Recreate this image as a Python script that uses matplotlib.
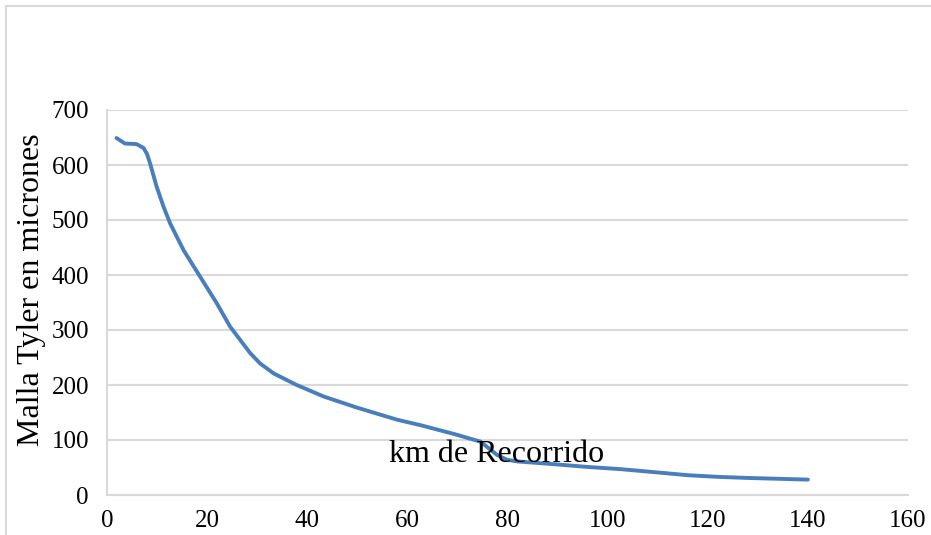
import matplotlib.pyplot as plt
from matplotlib.lines import Line2D

# values
km = [1.9, 3.6, 5.9, 7.3, 8.0, 8.6, 9.9, 11.3, 12.6, 15.3, 18.6, 21.9,
      24.6, 26.6, 28.6, 30.6, 33.3, 37.9, 43.3, 49.9, 57.9, 62.6, 69.3,
      74.6, 77.9, 79.9, 82.0, 89.3, 96.0, 102.6, 110.0, 116.0, 122.0,
      128.0, 134.0, 140.0]
malla = [649, 639, 638, 631, 620, 603, 561, 524, 494, 445, 397, 349,
         306, 282, 258, 239, 221, 200, 179, 159, 137, 127, 111,
         97, 73, 64, 61, 56, 51, 47, 41, 36, 33,
         31, 29.5, 28]

x_ticks = [0, 20, 40, 60, 80, 100, 120, 140, 160]
y_ticks = [0, 100, 200, 300, 400, 500, 600, 700]

plt.rcParams['font.family'] = ['Liberation Serif', 'DejaVu Serif']

fig = plt.figure(figsize=(9.31, 5.35), dpi=100)
ax = fig.add_axes([107 / 931, 40 / 535, 801 / 931, 385 / 535])

ax.plot(km, malla, color='#4a7ebb', linewidth=2.8,
        solid_capstyle='round', solid_joinstyle='round')

ax.set_xlim(0, 160)
ax.set_ylim(0, 700)
ax.set_xticks(x_ticks)
ax.set_yticks(y_ticks)
ax.tick_params(axis='both', length=0, labelsize=18, colors='black')
ax.tick_params(axis='x', pad=11)
ax.tick_params(axis='y', pad=13)

ax.grid(axis='y', color='#d9d9d9', linewidth=1.5)
ax.set_axisbelow(True)
for side in ['top', 'right']:
    ax.spines[side].set_visible(False)
for side in ['left', 'bottom']:
    ax.spines[side].set_color('#d9d9d9')
    ax.spines[side].set_linewidth(1.5)

# axis titles sit where the original chart had them
fig.text(497 / 931, 1 - 454 / 535, 'km de Recorrido', fontsize=23,
         ha='center', va='center')
fig.text(32 / 931, 1 - 290 / 535, 'Malla Tyler en micrones', fontsize=23,
         rotation=90, ha='center', va='center')

# chart border (cut at the right and bottom)
fig.add_artist(Line2D([6 / 931, 6 / 931], [0, 1 - 6 / 535],
                      transform=fig.transFigure, color='#d9d9d9', linewidth=1.5))
fig.add_artist(Line2D([6 / 931, 1], [1 - 6 / 535, 1 - 6 / 535],
                      transform=fig.transFigure, color='#d9d9d9', linewidth=1.5))

fig.savefig('out.png', dpi=100)
